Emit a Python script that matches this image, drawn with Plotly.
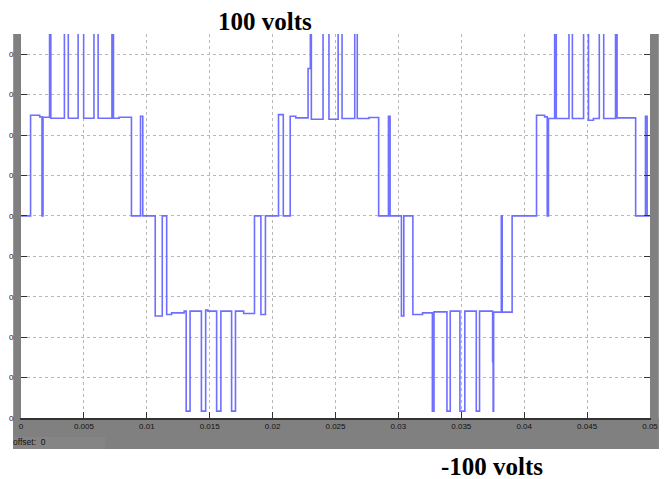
import plotly.graph_objects as go

# transition times (ms) and the level the waveform steps to (volts)
time_ms = [0.00, 0.76, 1.49, 1.67, 1.75, 2.27, 2.37, 3.45, 3.76, 4.54, 4.98, 5.80, 6.13,
           7.23, 7.35, 7.80, 8.78, 9.50, 9.68,
           10.67, 11.23, 11.58, 11.97, 12.97, 13.13, 13.44, 14.34, 14.68, 14.86, 15.55,
           15.89, 16.74, 17.05, 17.70, 18.56, 19.07, 19.43,
           20.47, 20.85, 21.40, 21.84, 22.82, 23.00, 23.08, 24.01, 24.48, 25.21, 25.52,
           26.53, 26.73, 27.66, 28.43, 29.21, 29.34,
           30.24, 30.43, 31.15, 31.92, 32.70, 32.83, 33.86, 34.12, 34.89, 35.28, 36.19,
           36.45, 37.49, 37.53, 37.57, 38.18, 38.25, 39.04,
           40.98, 41.62, 41.83, 41.93, 42.42, 42.55, 43.56, 43.83, 44.72, 45.11, 45.50,
           45.97, 46.32, 47.26, 47.38, 48.86, 49.64, 49.77, 50.00]
volts = [0, 49.8, 49.0, 0, 48.8, 97, 48.3, 97, 48.3, 97, 48.3, 97, 48.3,
         97, 48.3, 48.8, 0, 49.3, 0,
         -49.5, 0, -48.8, -48.0, -47.1, -96.6, -47.1, -96.6, -46.6, -47.1, -96.6,
         -47.1, -96.6, -47.1, -48.3, 0, -48.8, 0,
         50.1, 0, 49.3, 48.5, 72.9, 97, 47.8, 97, 47.8, 97, 48.2,
         97, 48.2, 48.7, 0, 49.3, 0,
         -49.5, 0, -48.8, -48.0, -96.6, -47.5, -96.6, -47.1, -96.6, -47.1, -96.6,
         -47.1, -72.2, -96.6, -47.6, 0, -47.6, 0,
         49.8, 49.0, 0, 48.2, 97, 48.2, 97, 48.2, 97, 47.3, 48.2,
         97, 48.2, 97, 48.5, 0, 49.3, 0, 0]

x_ticks = [0, 0.005, 0.01, 0.015, 0.02, 0.025, 0.03, 0.035, 0.04, 0.045, 0.05]
x_tick_labels = ["0", "0.005", "0.01", "0.015", "0.02", "0.025", "0.03", "0.035",
                 "0.04", "0.045", "0.05"]
y_ticks = [-100, -80, -60, -40, -20, 0, 20, 40, 60, 80]
y_tick_labels = ["0"] * len(y_ticks)

time_s = [t / 1000.0 for t in time_ms]

GRAY = "#808080"
fig = go.Figure()
fig.add_trace(go.Scatter(x=time_s, y=volts, mode="lines", line_shape="hv",
                         line=dict(color="#6e6eff", width=1.6),
                         hoverinfo="skip", showlegend=False))

tickfont = dict(family="Liberation Sans, Arial, sans-serif", size=8, color="#111111")
fig.update_layout(
    width=667, height=479,
    margin=dict(l=14, r=9, t=34, b=61, pad=0),
    paper_bgcolor="white", plot_bgcolor="white",
    showlegend=False,
    xaxis=dict(range=[0, 0.05], tickvals=x_ticks, ticktext=x_tick_labels,
               ticks="inside", ticklen=6, tickcolor="#333333", tickwidth=1,
               showline=True, linecolor="#333333", linewidth=1.5,
               showgrid=True, gridcolor="#b8b8b8", griddash="dot", gridwidth=1,
               zeroline=False, tickfont=tickfont, fixedrange=True),
    yaxis=dict(range=[-100, 90], tickvals=y_ticks, ticktext=y_tick_labels,
               ticks="inside", ticklen=6, tickcolor="#333333", tickwidth=1,
               showline=True, linecolor=GRAY, linewidth=1, mirror="ticks",
               showgrid=True, gridcolor="#b8b8b8", griddash="dot", gridwidth=1,
               zeroline=False, tickfont=tickfont, ticklabelstandoff=5, fixedrange=True),
)

def px_x(p):
    return (p - 14) / 644.0

def px_y(p):
    return (418 - p) / 384.0

shapes = [
    dict(type="rect", xref="paper", yref="paper", x0=px_x(6), x1=0, y0=px_y(449), y1=1,
         fillcolor=GRAY, line=dict(width=0), layer="below"),
    dict(type="rect", xref="paper", yref="paper", x0=px_x(6), x1=px_x(667), y0=px_y(449), y1=0,
         fillcolor=GRAY, line=dict(width=0), layer="below"),
    dict(type="rect", xref="paper", yref="paper", x0=1, x1=px_x(667), y0=px_y(449), y1=1,
         fillcolor=GRAY, line=dict(width=0), layer="below"),
    dict(type="rect", xref="paper", yref="paper", x0=px_x(6), x1=px_x(100), y0=px_y(449), y1=px_y(437),
         fillcolor="#858585", line=dict(width=0), layer="below"),
]
fig.update_layout(shapes=shapes)

fig.add_annotation(text="<b>100 volts</b>", xref="paper", yref="paper",
                   x=px_x(264), y=px_y(21.5), xanchor="center", yanchor="middle",
                   showarrow=False,
                   font=dict(family="Liberation Serif, Times New Roman, serif", size=25, color="black"))
fig.add_annotation(text="<b>-100 volts</b>", xref="paper", yref="paper",
                   x=px_x(496.7), y=px_y(466.5), xanchor="center", yanchor="middle",
                   showarrow=False,
                   font=dict(family="Liberation Serif, Times New Roman, serif", size=25, color="black"))
fig.add_annotation(text="offset:  0", xref="paper", yref="paper",
                   x=px_x(4), y=px_y(442), xanchor="left", yanchor="middle",
                   showarrow=False,
                   font=dict(family="Liberation Sans, Arial, sans-serif", size=8.5, color="#111111"))

fig.write_html("out.html")
